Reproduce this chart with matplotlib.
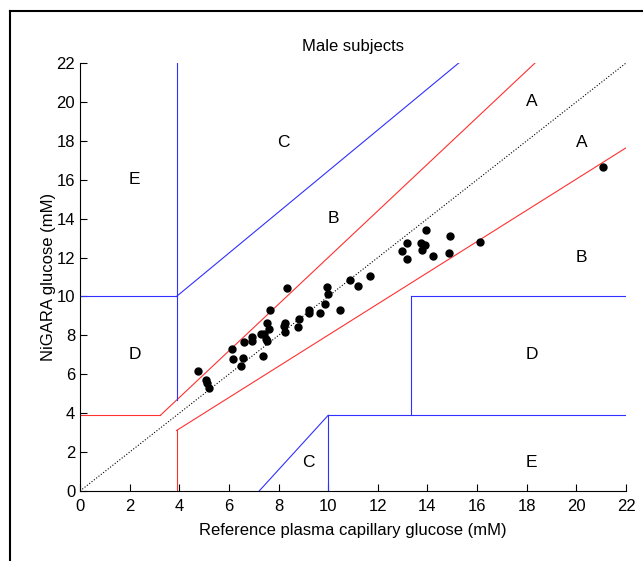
import matplotlib
matplotlib.use('Agg')
import matplotlib.pyplot as plt
from matplotlib.lines import Line2D

plt.rcParams['font.family'] = ['Liberation Sans', 'DejaVu Sans']

# measured pairs (mM)
ref_glucose = [4.77, 5.08, 5.11, 5.21, 6.13, 6.16, 6.55, 6.48, 6.59, 6.92, 6.94,
               7.28, 7.41, 7.50, 7.54, 7.37, 7.55, 7.62, 7.64, 8.33, 8.24, 8.20,
               8.24, 8.82, 8.80, 9.23, 9.21, 9.68, 9.88, 9.97, 10.01, 10.48, 10.86,
               11.22, 11.67, 12.97, 13.16, 13.16, 13.74, 13.77, 13.91, 13.93, 14.22,
               14.85, 14.89, 16.10, 21.07]
nigara_glucose = [6.17, 5.71, 5.57, 5.28, 7.29, 6.78, 6.83, 6.44, 7.68, 7.93, 7.71,
                  8.09, 8.07, 7.83, 7.71, 6.92, 8.64, 8.31, 9.31, 10.42, 8.62, 8.48,
                  8.16, 8.83, 8.45, 9.32, 9.14, 9.17, 9.61, 10.48, 10.13, 9.29, 10.85,
                  10.54, 11.05, 12.34, 12.73, 11.93, 12.73, 12.39, 12.65, 13.42, 12.08,
                  12.22, 13.11, 12.79, 16.67]

# Clarke error grid boundaries (x list, y list)
red_lines = [
    ([0, 3.24], [3.89, 3.89]),
    ([3.24, 18.5], [3.89, 22.2]),
    ([3.89, 3.89], [0, 3.11]),
    ([3.89, 22.2], [3.11, 17.8]),
]
blue_lines = [
    ([3.89, 3.89], [4.67, 22.2]),
    ([0, 3.89], [10, 10]),
    ([3.89, 15.45], [10, 22.2]),
    ([13.33, 13.33], [3.89, 10]),
    ([13.33, 22.2], [10, 10]),
    ([7.22, 10], [0, 3.89]),
    ([10, 22.2], [3.89, 3.89]),
    ([10, 10], [0, 3.89]),
]
zone_labels = ['A', 'A', 'B', 'B', 'C', 'C', 'D', 'D', 'E', 'E']
zone_x = [18.2, 20.2, 10.2, 20.2, 8.2, 9.2, 2.2, 18.2, 2.2, 18.2]
zone_y = [20.0, 17.9, 14.0, 12.0, 17.9, 1.45, 7.0, 7.0, 16.0, 1.45]

fig = plt.figure(figsize=(6.43, 5.61), dpi=100)
ax = fig.add_axes([0.1244, 0.1248, 0.8492, 0.7629])

ax.plot([0, 22], [0, 22], 'k:', lw=0.8)
for xs, ys in red_lines:
    ax.plot(xs, ys, color='#ff3030', lw=0.8)
for xs, ys in blue_lines:
    ax.plot(xs, ys, color='#3030ff', lw=0.8)
ax.plot(ref_glucose, nigara_glucose, 'ko', ms=5)

for lab, zx, zy in zip(zone_labels, zone_x, zone_y):
    ax.text(zx, zy, lab, fontsize=12.5, ha='center', va='center')

ax.set_xlim(0, 22)
ax.set_ylim(0, 22)
ax.set_xticks(range(0, 23, 2))
ax.set_yticks(range(0, 23, 2))
ax.spines['top'].set_visible(False)
ax.spines['right'].set_visible(False)
ax.tick_params(direction='in', length=5, labelsize=12)
ax.tick_params(axis='x', pad=6)
ax.set_xlabel('Reference plasma capillary glucose (mM)', fontsize=12, labelpad=6)
ax.set_ylabel('NiGARA glucose (mM)', fontsize=12, labelpad=0)
ax.set_title('Male subjects', fontsize=12, pad=9)

# outer frame of the original figure
fx = 10 / 643
fy = 1 - 11 / 561
fig.add_artist(Line2D([fx, fx], [0, fy], color='k', lw=1.5, transform=fig.transFigure))
fig.add_artist(Line2D([fx, 1], [fy, fy], color='k', lw=1.5, transform=fig.transFigure))

fig.savefig('out.png', dpi=100)
